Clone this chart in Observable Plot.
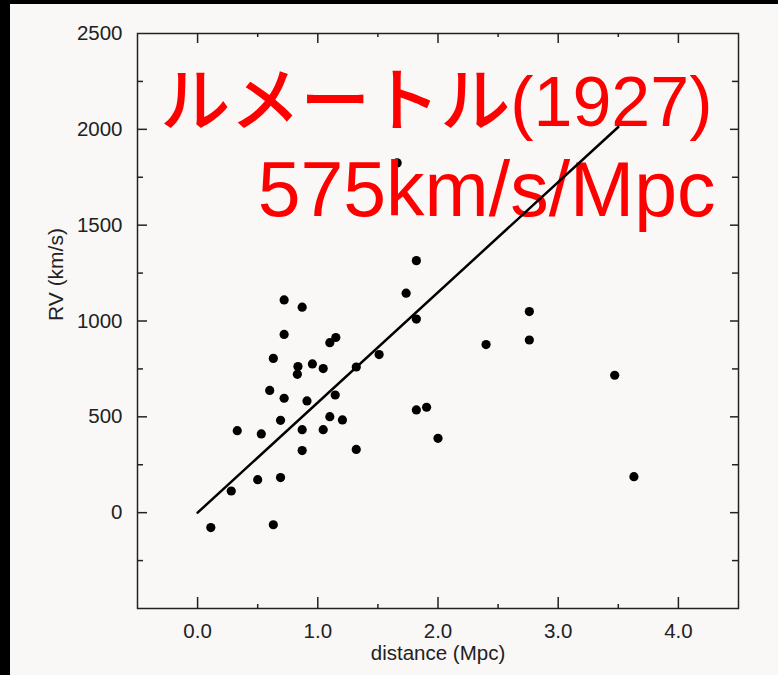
<!DOCTYPE html>
<html>
<head>
<meta charset="utf-8">
<script src="https://cdn.jsdelivr.net/npm/d3@7"></script>
<script src="https://cdn.jsdelivr.net/npm/@observablehq/plot@0.6"></script>
<style>
  html, body { margin: 0; padding: 0; background: #000; width: 778px; height: 675px; overflow: hidden; }
  #chart { position: absolute; left: 10px; top: 4px; width: 768px; height: 671px; background: #f9f8f7; }
</style>
</head>
<body>
<div id="chart"></div>
<script>
// distance (Mpc) and radial velocity (km/s) of the galaxies
const distX = [1.82, 1.735, 1.82, 0.72, 0.87, 0.72, 1.10, 1.15, 0.63, 0.835,
               0.83, 0.955, 1.045, 1.32, 1.51, 0.60, 0.72, 0.91, 1.145, 0.69,
               1.10, 1.205, 0.33, 0.53, 0.87, 1.045, 0.87, 1.32, 1.82, 1.905,
               2.00, 0.50, 0.69, 0.28, 0.11, 0.63, 2.76, 2.76, 2.40, 3.47,
               3.63, 1.66];
const rvY   = [1315, 1145, 1010, 1110, 1072, 930, 887, 914, 805, 762,
               722, 776, 752, 760, 825, 638, 597, 583, 614, 482,
               501, 484, 428, 411, 433, 433, 324, 330, 536, 550,
               388, 172, 183, 113, -78, -63, 1049, 901, 877, 717,
               188, 1825];
// fitted line endpoints (575 km/s/Mpc)
const fitX = [0, 3.5];
const fitY = [0, 2012];

const xLabels = [0, 1, 2, 3, 4];
const xMinor = [0.5, 1.5, 2.5, 3.5];
const yLabels = [0, 500, 1000, 1500, 2000, 2500];
const yMajor = [0, 500, 1000, 1500, 2000];
const yMinor = [-250, 250, 750, 1250, 1750, 2250];

const titleLine1 = "ルメートル(1927)";
const titleLine2 = "575km/s/Mpc";
const xTitle = "distance (Mpc)";
const yTitle = "RV (km/s)";

const points = distX.map((d, i) => ({d, v: rvY[i]}));
const fit = fitX.map((d, i) => ({d, v: fitY[i]}));

const W = 768, H = 671;
const mL = 127, mT = 29, mR = 40, mB = 67;
const fW = W - mL - mR, fH = H - mT - mB;
const ink = "#222";

const chart = Plot.plot({
  width: W,
  height: H,
  marginLeft: mL, marginTop: mT, marginRight: mR, marginBottom: mB,
  style: {background: "transparent", fontFamily: "'Liberation Sans', Arial, 'Noto Sans CJK JP', sans-serif", fontSize: "20.5px", color: ink},
  x: {domain: [-0.5, 4.5]},
  y: {domain: [-500, 2500]},
  marks: [
    Plot.frame({stroke: ink, strokeWidth: 1.5}),
    // inward ticks: bottom
    Plot.tickX(xLabels, {x: d => d, insetTop: fH - 11, stroke: ink, strokeWidth: 1.5}),
    Plot.tickX(xMinor, {x: d => d, insetTop: fH - 4, stroke: ink, strokeWidth: 1.5}),
    // top
    Plot.tickX(xLabels, {x: d => d, insetBottom: fH - 10, stroke: ink, strokeWidth: 1.5}),
    Plot.tickX(xMinor, {x: d => d, insetBottom: fH - 4, stroke: ink, strokeWidth: 1.5}),
    // left
    Plot.tickY(yMajor, {y: d => d, insetRight: fW - 10, stroke: ink, strokeWidth: 1.5}),
    Plot.tickY(yMinor, {y: d => d, insetRight: fW - 6, stroke: ink, strokeWidth: 1.5}),
    // right
    Plot.tickY(yMajor, {y: d => d, insetLeft: fW - 8, stroke: ink, strokeWidth: 1.5}),
    Plot.tickY(yMinor, {y: d => d, insetLeft: fW - 6, stroke: ink, strokeWidth: 1.5}),
    Plot.axisX({ticks: xLabels, tickFormat: d => d.toFixed(1), tickSize: 0, tickPadding: 15, fontSize: 20.5, label: null}),
    Plot.axisY({ticks: yLabels, tickFormat: d => String(d), tickSize: 0, tickPadding: 15, fontSize: 20.5, label: null}),
    Plot.text([xTitle], {frameAnchor: "bottom", dy: 51, lineAnchor: "bottom", fontSize: 20.5, fill: ink}),
    Plot.text([yTitle], {frameAnchor: "left", dx: -75, rotate: -90, lineAnchor: "bottom", fontSize: 21, fill: ink}),
    Plot.dot(points, {x: "d", y: "v", r: 4.6, fill: "#000", stroke: "none"}),
    Plot.text([titleLine1], {frameAnchor: "top-right", dx: -26, dy: 92, lineAnchor: "bottom", textAnchor: "end", fontSize: 70, fontWeight: 500, fill: "#ff0000"}),
    Plot.text([titleLine2], {frameAnchor: "top-right", dx: -23, dy: 182, lineAnchor: "bottom", textAnchor: "end", fontSize: 77, fill: "#ff0000"}),
    Plot.line(fit, {x: "d", y: "v", stroke: "#000", strokeWidth: 2.5})
  ]
});
document.getElementById("chart").appendChild(chart);
</script>
</body>
</html>
